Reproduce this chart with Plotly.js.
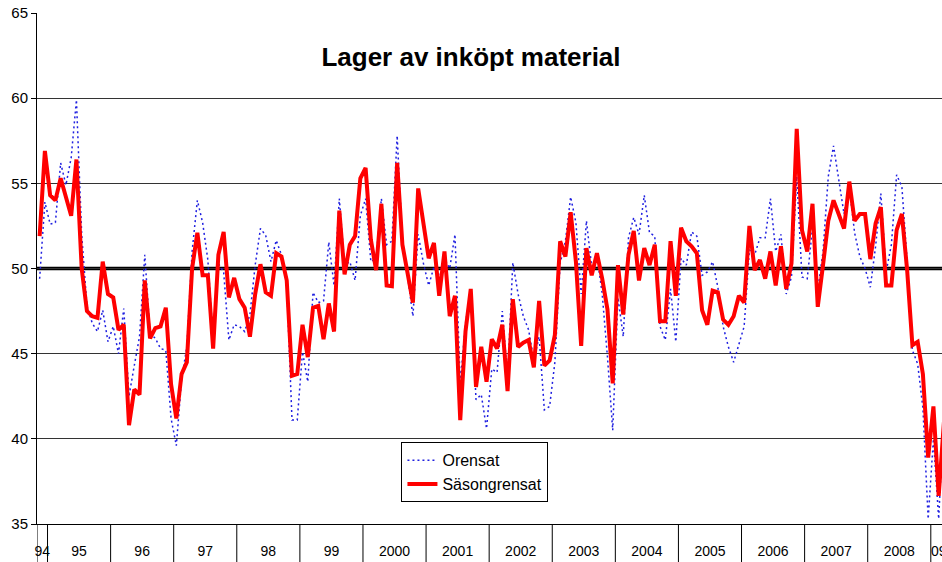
<!DOCTYPE html>
<html>
<head>
<meta charset="utf-8">
<script src="https://cdn.plot.ly/plotly-3.0.1.min.js"></script>
<style>html,body{margin:0;padding:0;background:#fff;}#chart{width:942px;height:562px;}</style>
</head>
<body>
<div id="chart"></div>
<script>
// Monthly series, first value = November 1994
const startYear = 1994;
const startMonth = 11;

const orensat = [
  49.4, 53.9,
  52.6, 52.7, 56.2, 54.9, 56.5, 59.9, 52.0, 47.8, 46.8, 46.3, 47.55, 45.7,
  46.6, 45.0, 47.65, 42.5, 44.3, 46.0, 50.8, 46.2, 45.9, 45.3, 45.2, 41.2,
  39.6, 43.5, 45.4, 51.0, 54.0, 52.7, 50.5, 45.8, 50.3, 49.8, 45.8, 46.7,
  46.6, 46.3, 47.3, 50.2, 52.35, 51.95, 50.4, 51.65, 50.8, 49.0, 41.1, 41.1,
  45.1, 43.35, 48.6, 48.0, 48.1, 51.55, 49.0, 54.1, 50.2, 50.4, 49.3, 53.1,
  54.1, 50.4, 50.6, 54.1, 51.4, 51.6, 57.8, 51.6, 49.5, 47.2, 52.0, 50.3,
  49.0, 50.1, 49.4, 50.6, 50.0, 52.0, 43.2, 46.8, 48.7, 42.3, 42.6, 40.6,
  44.1, 43.9, 47.5, 43.6, 50.35, 48.5, 47.2, 46.4, 44.6, 46.0, 41.7, 41.9,
  44.5, 50.3, 51.6, 54.2, 52.7, 48.5, 52.8, 50.1, 50.8, 48.5, 44.8, 40.5,
  48.3, 46.0, 51.8, 53.0, 52.0, 54.3, 52.1, 51.9, 46.6, 45.8, 48.8, 45.7,
  50.6, 50.2, 52.15, 51.9, 49.6, 49.8, 50.4, 48.9, 46.6, 45.4, 44.5, 45.6,
  46.6, 51.1, 50.8, 51.8, 51.8, 54.1, 51.0, 52.0, 48.5, 49.5, 55.4, 49.5,
  49.4, 52.4, 48.7, 51.0, 55.4, 57.2, 55.2, 53.2, 54.8, 52.1, 50.7, 50.0,
  48.9, 51.3, 54.4, 49.8, 51.4, 55.5, 54.8, 50.4, 45.2, 44.4, 41.8, 35.3,
  40.0, 35.3, 41.8
];

const sasongrensat = [
  51.9, 56.9,
  54.3, 54.0, 55.3, 54.2, 53.1, 56.4, 50.0, 47.5, 47.2, 47.1, 50.4, 48.5,
  48.3, 46.4, 46.7, 40.8, 42.9, 42.6, 49.3, 45.9, 46.5, 46.6, 47.7, 43.2,
  41.2, 43.8, 44.5, 50.0, 52.1, 49.6, 49.6, 45.3, 50.8, 52.15, 48.3, 49.45,
  48.2, 47.7, 46.0, 48.5, 50.25, 48.6, 48.4, 50.9, 50.7, 49.3, 43.7, 43.8,
  46.7, 44.8, 47.7, 47.8, 45.85, 47.95, 46.3, 53.4, 49.65, 51.4, 51.9, 55.3,
  55.9, 51.7, 49.9, 53.8, 49.0, 48.96, 56.2, 51.4, 49.6, 48.0, 54.7, 52.6,
  50.6, 51.5, 48.4, 51.0, 47.2, 48.4, 41.1, 46.3, 48.8, 43.05, 45.4, 43.35,
  45.85, 45.3, 46.7, 42.8, 48.2, 45.4, 45.65, 45.8, 44.2, 48.1, 44.3, 44.6,
  46.1, 51.6, 50.7, 53.3, 50.4, 45.45, 51.2, 49.6, 50.9, 49.4, 47.6, 43.25,
  50.2, 47.3, 50.8, 52.2, 49.3, 51.2, 50.2, 51.4, 46.9, 46.9, 51.6, 48.4,
  52.4, 51.6, 51.3, 50.9, 47.55, 46.7, 48.7, 48.6, 47.0, 46.7, 47.2, 48.4,
  48.0, 52.5, 49.9, 50.5, 49.4, 51.0, 49.0, 51.3, 48.8, 50.3, 58.2, 52.25,
  51.0, 53.8, 47.75, 50.2, 52.8, 54.0, 53.2, 52.35, 55.1, 52.8, 53.2, 53.2,
  50.55, 52.65, 53.6, 49.0, 49.0, 52.25, 53.2, 49.9, 45.5, 45.7, 43.8, 38.9,
  41.9, 36.65, 41.0
];

const yearLabels = ['94','95','96','97','98','99','2000','2001','2002','2003','2004','2005','2006','2007','2008','09'];
const seriesNames = ['Orensat', 'Säsongrensat'];
const titleText = 'Lager av inköpt material';
const refLevel = 50;

const n = sasongrensat.length;
const xIdx = sasongrensat.map((_, i) => i);

// year groups -> label centres and separator positions
const tickVals = [];
const seps = [];
yearLabels.forEach((lab, k) => {
  const y = startYear + k;
  const first = Math.max(0, (y - startYear) * 12 - (startMonth - 1));
  const last = Math.min(n - 1, (y - startYear) * 12 + 12 - startMonth);
  tickVals.push((first + last) / 2);
  seps.push(first - 0.5);
});

const FONT = 'Liberation Sans, Arial, sans-serif';

const traces = [
  {
    x: xIdx, y: orensat, name: seriesNames[0], type: 'scatter', mode: 'lines',
    line: {color: '#2020e0', width: 1.5, dash: '2px,3px'}
  },
  {
    x: xIdx, y: sasongrensat, name: seriesNames[1], type: 'scatter', mode: 'lines',
    line: {color: '#ff0000', width: 4}
  }
];

const shapes = [
  {type: 'line', xref: 'paper', x0: 0, x1: 1, yref: 'y', y0: refLevel, y1: refLevel,
   line: {color: '#000', width: 3.5}, layer: 'below'}
];
seps.forEach(s => {
  shapes.push({type: 'line', xref: 'x', x0: s, x1: s, yref: 'paper', y0: 0, y1: -0.09,
    line: {color: '#000', width: 1}});
});

const layout = {
  width: 942, height: 562,
  margin: {l: 37, r: 0, t: 13, b: 38},
  paper_bgcolor: '#fff', plot_bgcolor: '#fff',
  font: {family: FONT, color: '#000'},
  title: {text: '<b>' + titleText + '</b>', font: {family: FONT, size: 26, color: '#000'},
          xref: 'container', x: 0.5, xanchor: 'center', yref: 'container', y: 1 - 57/562, yanchor: 'middle'},
  showlegend: true,
  legend: {x: 0.4027, y: 0.16, xanchor: 'left', yanchor: 'top', bgcolor: '#fff',
           bordercolor: '#000', borderwidth: 1, font: {family: FONT, size: 16, color: '#000'},
           tracegroupgap: 0},
  xaxis: {
    range: [-0.5, 171.63], showgrid: false, zeroline: false,
    showline: true, linecolor: '#000', linewidth: 1,
    tickmode: 'array', tickvals: tickVals, ticktext: yearLabels,
    ticks: '', ticklabelstandoff: 14, ticklabeloverflow: 'allow',
    tickfont: {family: FONT, size: 14, color: '#000'}
  },
  yaxis: {
    range: [35, 65], dtick: 5, tick0: 35, showgrid: true, gridcolor: '#333', gridwidth: 1,
    zeroline: false, showline: true, linecolor: '#000', linewidth: 1,
    ticks: 'outside', ticklen: 5, tickcolor: '#000',
    tickfont: {family: FONT, size: 15, color: '#000'}
  },
  shapes: shapes
};

Plotly.newPlot('chart', traces, layout, {displayModeBar: false, staticPlot: true});
</script>
</body>
</html>
